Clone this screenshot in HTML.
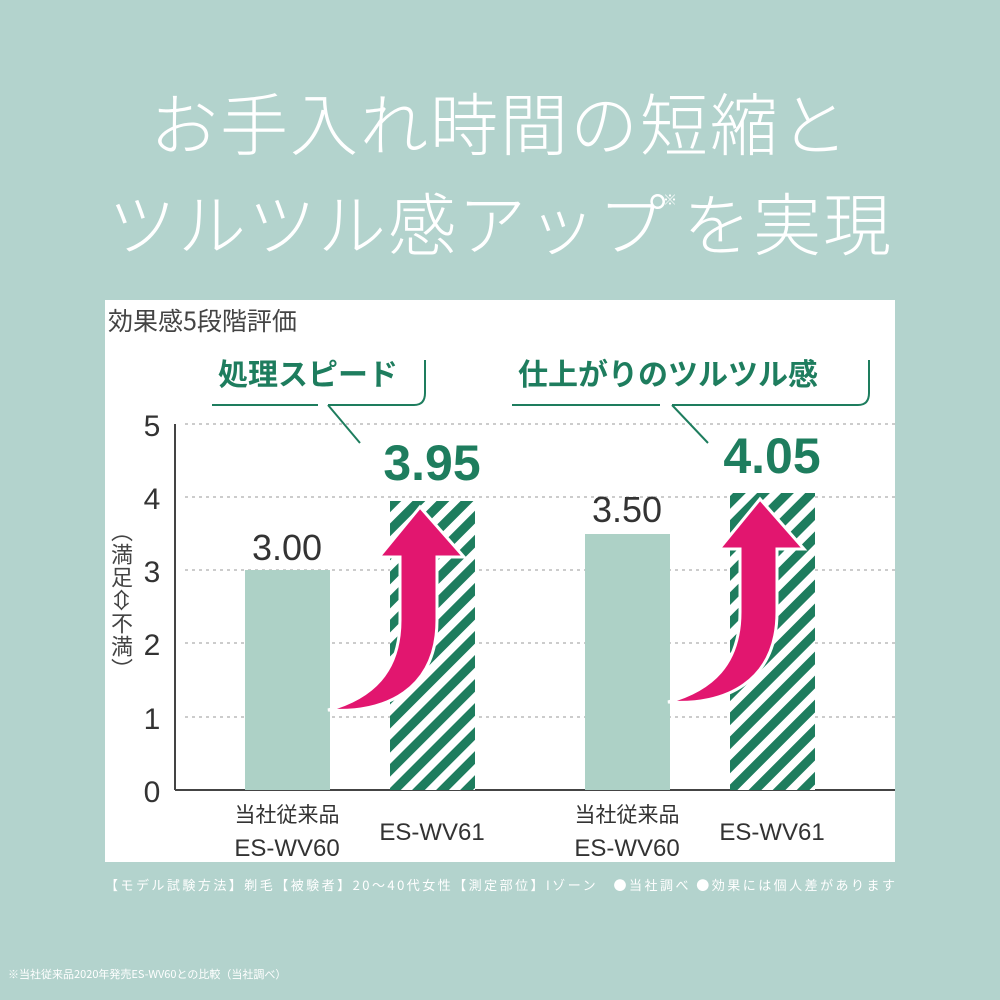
<!DOCTYPE html>
<html><head><meta charset="utf-8"><style>
body{margin:0;width:1000px;height:1000px;background:#b3d3cd;overflow:hidden;font-family:"Liberation Sans","Noto Sans CJK JP",sans-serif}
</style></head><body>
<svg width="1000" height="1000" xmlns="http://www.w3.org/2000/svg" style="position:absolute;left:0;top:0">
<defs>
<pattern id="h" patternUnits="userSpaceOnUse" width="17" height="17" patternTransform="rotate(45)">
<rect width="17" height="17" fill="#fff"/><rect width="9" height="17" fill="#1e7d5e"/>
</pattern>
</defs>
<g font-family="Noto Sans CJK JP, sans-serif" fill="#fff" font-weight="300">
<text x="500" y="150" font-size="68" text-anchor="middle" letter-spacing="2">お手入れ時間の短縮と</text>
<text x="108" y="250" font-size="68" letter-spacing="2">ツルツル感アップ</text>
<text x="663" y="205" font-size="14">※</text>
<text x="683" y="250" font-size="68" letter-spacing="2">を実現</text>
</g>
<rect x="105" y="300" width="790" height="562" fill="#fff"/>
<text x="108" y="330" font-size="25" fill="#444" font-family="Noto Sans CJK JP, sans-serif">効果感5段階評価</text>
<g stroke="#bbb" stroke-width="1.5" stroke-dasharray="3,4">
<line x1="185" y1="424" x2="895" y2="424"/><line x1="185" y1="497" x2="895" y2="497"/>
<line x1="185" y1="570" x2="895" y2="570"/><line x1="185" y1="643" x2="895" y2="643"/>
<line x1="185" y1="717" x2="895" y2="717"/>
</g>
<line x1="175" y1="424" x2="175" y2="790" stroke="#444" stroke-width="2"/>
<line x1="175" y1="790" x2="895" y2="790" stroke="#444" stroke-width="2"/>
<g font-size="30" fill="#333" text-anchor="middle">
<text x="152" y="436">5</text><text x="152" y="509">4</text><text x="152" y="582">3</text>
<text x="152" y="655">2</text><text x="152" y="729">1</text><text x="152" y="802">0</text>
</g>
<text font-size="22" fill="#444" font-family="Noto Sans CJK JP, sans-serif" writing-mode="tb" x="122" y="520" letter-spacing="1" style="writing-mode:vertical-rl">（満足⇔不満）</text>
<rect x="245" y="570" width="85" height="220" fill="#add1c6"/>
<rect x="585" y="534" width="85" height="256" fill="#add1c6"/>
<rect x="390" y="501" width="85" height="289" fill="url(#h)"/>
<rect x="730" y="493" width="85" height="297" fill="url(#h)"/>
<g fill="#e2166f" stroke="#fff" stroke-width="3">
<path d="M420,507 L464,557 L437,557 L437,620 C437,690 385,714 328,710 C372,698 400,672 400,620 L400,557 L379,557 Z"/>
<path transform="translate(340,-8)" d="M420,507 L464,557 L437,557 L437,620 C437,690 385,714 328,710 C372,698 400,672 400,620 L400,557 L379,557 Z"/>
</g>
<g font-size="36" fill="#333" text-anchor="middle">
<text x="287" y="560">3.00</text><text x="627" y="522">3.50</text>
</g>
<g font-size="50" fill="#1e7d5e" text-anchor="middle" font-weight="bold">
<text x="432" y="480">3.95</text><text x="772" y="473">4.05</text>
</g>
<g font-family="Noto Sans CJK JP, sans-serif" font-size="30" fill="#1e7d5e" font-weight="bold">
<text x="218" y="385">処理スピード</text>
<text x="518" y="385">仕上がりのツルツル感</text>
</g>
<g fill="none" stroke="#1e7d5e" stroke-width="2">
<path d="M212,405 L318,405 M328,405 L414,405 Q425,405 425,393 L425,360 M328,405 L360,443"/>
<path d="M512,405 L660,405 M672,405 L858,405 Q869,405 869,393 L869,360 M672,405 L708,443"/>
</g>
<g font-size="24" fill="#333" text-anchor="middle">
<text x="287" y="822" font-family="Noto Sans CJK JP, sans-serif" font-size="21">当社従来品</text>
<text x="287" y="856">ES-WV60</text>
<text x="432" y="840">ES-WV61</text>
<text x="627" y="822" font-family="Noto Sans CJK JP, sans-serif" font-size="21">当社従来品</text>
<text x="627" y="856">ES-WV60</text>
<text x="772" y="840">ES-WV61</text>
</g>
<text x="105" y="890" font-size="13" fill="#fff" font-family="Noto Sans CJK JP, sans-serif" textLength="790">【モデル試験方法】剃毛【被験者】20～40代女性【測定部位】Iゾーン　●当社調べ ●効果には個人差があります</text>
<text x="8" y="978" font-size="11" fill="#fff" font-family="Noto Sans CJK JP, sans-serif">※当社従来品2020年発売ES-WV60との比較（当社調べ）</text>
</svg>
</body></html>
